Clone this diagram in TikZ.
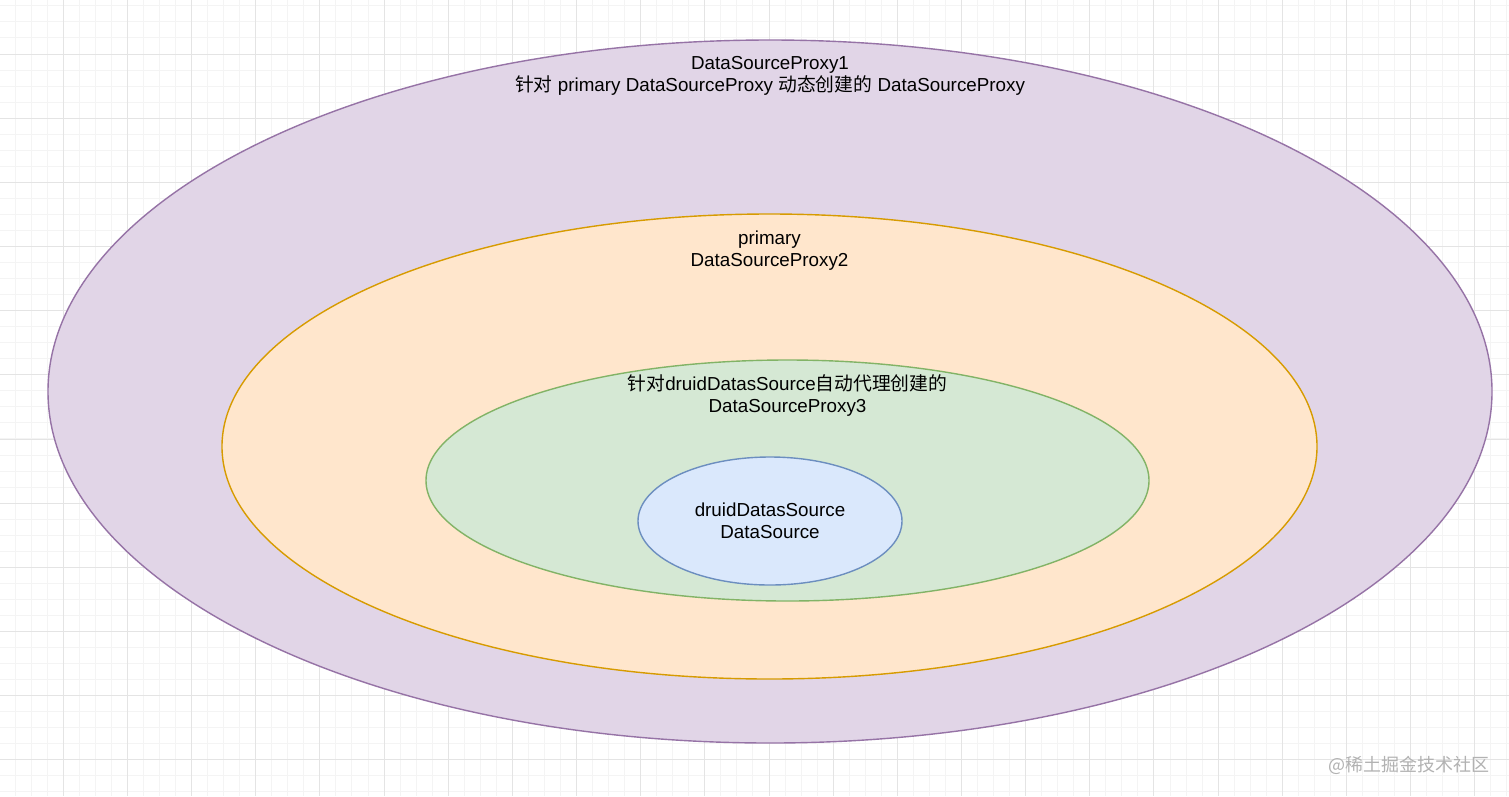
\documentclass[tikz,border=0pt]{standalone}
\usepackage{fontspec}
\setmainfont{Liberation Sans}
\newfontfamily\cjk{Noto Sans CJK SC}
\usetikzlibrary{shapes.geometric,positioning}
\definecolor{purplefill}{HTML}{E1D5E7}
\definecolor{purpleline}{HTML}{9673A6}
\definecolor{orangefill}{HTML}{FFE6CC}
\definecolor{orangeline}{HTML}{D79B00}
\definecolor{greenfill}{HTML}{D5E8D4}
\definecolor{greenline}{HTML}{82B366}
\definecolor{bluefill}{HTML}{DAE8FC}
\definecolor{blueline}{HTML}{6C8EBF}
\definecolor{gridminor}{HTML}{F4F4F4}
\definecolor{gridmajor}{HTML}{E4E4E4}

\begin{document}
\begin{tikzpicture}[x=1pt,y=-1pt,
    ell/.style={ellipse,inner sep=0pt,line width=1.4pt},
    txt/.style={align=center,inner sep=0pt,font=\fontsize{18.8pt}{21.8pt}\selectfont}]
    \useasboundingbox (0,0) rectangle (1509,796);
    % grid
    \fill[white] (0,0) rectangle (1509,796);
    \foreach \k in {0,...,94} \draw[gridminor,line width=1pt] ({-0.9+16.04*\k},0) -- ({-0.9+16.04*\k},796);
    \foreach \k in {0,...,49} \draw[gridminor,line width=1pt] (0,{5.9+16.04*\k}) -- (1509,{5.9+16.04*\k});
    \foreach \k in {0,...,23} \draw[gridmajor,line width=1pt] ({-0.9+64.16*\k},0) -- ({-0.9+64.16*\k},796);
    \foreach \k in {0,...,13} \draw[gridmajor,line width=1pt] (0,{-10.1+64.16*\k}) -- (1509,{-10.1+64.16*\k});
    % ellipses
    \node[ell,fill=purplefill,draw=purpleline,minimum width=1444pt,minimum height=703pt] (1) at (770,391.5) {};
    \node[ell,fill=orangefill,draw=orangeline,minimum width=1095pt,minimum height=465pt] (2) at (769.5,446.5) {};
    \node[ell,fill=greenfill,draw=greenline,minimum width=723pt,minimum height=241pt] (3) at (787.5,480.5) {};
    \node[ell,txt,fill=bluefill,draw=blueline,minimum width=264pt,minimum height=128pt] (4) at (770,521) {druidDatasSource\\DataSource};
    % labels
    \node[txt,below=17pt of 1.north] (5) {DataSourceProxy1\\{\cjk 针对} primary DataSourceProxy {\cjk 动态创建的} DataSourceProxy};
    \node[txt,below=17.5pt of 2.north] (6) {primary\\DataSourceProxy2};
    \node[txt,below=15pt of 3.north] (7) {{\cjk 针对}druidDatasSource{\cjk 自动代理创建的}\\DataSourceProxy3};
    \node[inner sep=0pt,text=gray!60,font=\cjk\fontsize{18pt}{20pt}\selectfont] (8) at (1409,765) {@稀土掘金技术社区};
\end{tikzpicture}
\end{document}
